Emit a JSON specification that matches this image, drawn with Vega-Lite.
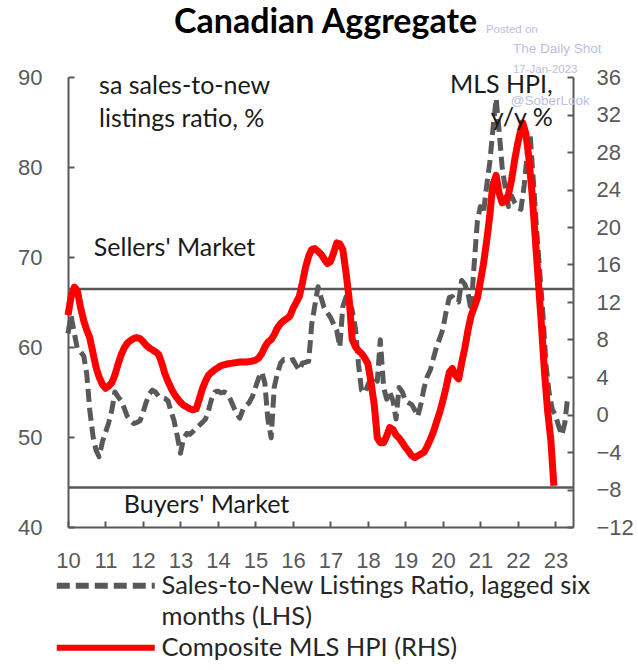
{
 "$schema": "https://vega.github.io/schema/vega-lite/v6.json",
 "width": 505,
 "height": 450,
 "autosize": "none",
 "padding": {"left": 68, "top": 77, "right": 65, "bottom": 143},
 "background": "white",
 "config": {
  "view": {"stroke": null},
  "axis": {"grid": false},
  "legend": {
   "orient": "none", "legendX": 25, "legendY": 496, "direction": "vertical", "title": null,
   "symbolType": "M-7,0H7", "symbolSize": 196, "symbolStrokeWidth": 6,
   "labelFont": "Lato", "labelFontSize": 25.5, "labelColor": "#262626", "labelLimit": 0,
   "labelOffset": 43, "rowPadding": 4, "padding": 0
  }
 },
 "datasets": {
  "levels": [{"level": 66.45}, {"level": 44.4}],
  "titleText": [{"t": 2012.827, "v": 94.89, "label": "Canadian Aggregate"}],
  "notesLeft": [
   {"t": 2010.83, "v": 88.1, "label": "sa sales-to-new|listings ratio, %"},
   {"t": 2010.69, "v": 70.1, "label": "Sellers' Market"},
   {"t": 2011.49, "v": 41.6, "label": "Buyers' Market"}
  ],
  "notesRight": [{"t": 2022.93, "v": 88.2, "label": "MLS HPI,|y/y %"}],
  "wmSmall": [
   {"t": 2021.147, "v": 94.9, "label": "Posted on"},
   {"t": 2021.867, "v": 90.45, "label": "17-Jan-2023"}
  ],
  "wmBig": [
   {"t": 2021.867, "v": 92.67, "label": "The Daily Shot"},
   {"t": 2021.81, "v": 86.9, "label": "@SoberLook"}
  ],
  "ratio": [
   {"t":2010.00,"v":61.5},{"t":2010.08,"v":63.5},{"t":2010.17,"v":61.5},{"t":2010.25,"v":59.8},{"t":2010.33,"v":59.5},{"t":2010.42,"v":59},{"t":2010.50,"v":57},{"t":2010.58,"v":53},{"t":2010.67,"v":50},{"t":2010.75,"v":48.5},{"t":2010.83,"v":47.8},{"t":2010.92,"v":49.5},
   {"t":2011.00,"v":50.5},{"t":2011.08,"v":51.5},{"t":2011.17,"v":53},{"t":2011.25,"v":55},{"t":2011.33,"v":54.5},{"t":2011.42,"v":54},{"t":2011.50,"v":53.2},{"t":2011.58,"v":52.3},{"t":2011.67,"v":51.8},{"t":2011.75,"v":51.5},{"t":2011.83,"v":51.6},{"t":2011.92,"v":51.8},
   {"t":2012.00,"v":52.7},{"t":2012.08,"v":53.8},{"t":2012.17,"v":54.8},{"t":2012.25,"v":55.2},{"t":2012.33,"v":55},{"t":2012.42,"v":54.5},{"t":2012.50,"v":54.4},{"t":2012.58,"v":54.3},{"t":2012.67,"v":54},{"t":2012.75,"v":52.8},{"t":2012.83,"v":51.8},{"t":2012.92,"v":50},
   {"t":2013.00,"v":48.2},{"t":2013.08,"v":49.8},{"t":2013.17,"v":50.4},{"t":2013.25,"v":50.3},{"t":2013.33,"v":50.6},{"t":2013.42,"v":51},{"t":2013.50,"v":51.3},{"t":2013.58,"v":51.6},{"t":2013.67,"v":52},{"t":2013.75,"v":53},{"t":2013.83,"v":54.2},{"t":2013.92,"v":55},
   {"t":2014.00,"v":55.1},{"t":2014.08,"v":54.9},{"t":2014.17,"v":55},{"t":2014.25,"v":54.8},{"t":2014.33,"v":54.2},{"t":2014.42,"v":53.3},{"t":2014.50,"v":52.6},{"t":2014.58,"v":52.1},{"t":2014.67,"v":53.1},{"t":2014.75,"v":53.5},{"t":2014.83,"v":53.8},{"t":2014.92,"v":54.5},
   {"t":2015.00,"v":55.5},{"t":2015.08,"v":56.5},{"t":2015.17,"v":57.2},{"t":2015.25,"v":56},{"t":2015.33,"v":52},{"t":2015.42,"v":49.9},{"t":2015.50,"v":55.5},{"t":2015.58,"v":57},{"t":2015.67,"v":58.2},{"t":2015.75,"v":58.6},{"t":2015.83,"v":58.6},{"t":2015.92,"v":58.5},
   {"t":2016.00,"v":58.6},{"t":2016.08,"v":58},{"t":2016.17,"v":57.4},{"t":2016.25,"v":58.2},{"t":2016.33,"v":58.3},{"t":2016.42,"v":58.4},{"t":2016.50,"v":62.5},{"t":2016.58,"v":64.5},{"t":2016.67,"v":66.7},{"t":2016.75,"v":65.5},{"t":2016.83,"v":64.4},{"t":2016.92,"v":63.8},
   {"t":2017.00,"v":63.3},{"t":2017.08,"v":62.6},{"t":2017.17,"v":61.8},{"t":2017.25,"v":60},{"t":2017.33,"v":64.5},{"t":2017.42,"v":65.6},{"t":2017.50,"v":65},{"t":2017.58,"v":64.1},{"t":2017.67,"v":62},{"t":2017.75,"v":58},{"t":2017.83,"v":55.2},{"t":2017.92,"v":54.9},
   {"t":2018.00,"v":55.8},{"t":2018.08,"v":56.5},{"t":2018.17,"v":56.7},{"t":2018.25,"v":56.2},{"t":2018.33,"v":60.8},{"t":2018.42,"v":55.5},{"t":2018.50,"v":54.2},{"t":2018.58,"v":55},{"t":2018.67,"v":54},{"t":2018.75,"v":52},{"t":2018.83,"v":55.5},{"t":2018.92,"v":55},
   {"t":2019.00,"v":54},{"t":2019.08,"v":53.8},{"t":2019.17,"v":53.6},{"t":2019.25,"v":53},{"t":2019.33,"v":52.3},{"t":2019.42,"v":53.8},{"t":2019.50,"v":55.5},{"t":2019.58,"v":56.7},{"t":2019.67,"v":57.5},{"t":2019.75,"v":58.8},{"t":2019.83,"v":60},{"t":2019.92,"v":61},
   {"t":2020.00,"v":62},{"t":2020.08,"v":63.8},{"t":2020.17,"v":65.5},{"t":2020.25,"v":65.6},{"t":2020.33,"v":65.2},{"t":2020.42,"v":65},{"t":2020.50,"v":67.4},{"t":2020.58,"v":67},{"t":2020.67,"v":66},{"t":2020.75,"v":64},{"t":2020.83,"v":69},{"t":2020.92,"v":74},
   {"t":2021.00,"v":75.6},{"t":2021.08,"v":74.8},{"t":2021.17,"v":78},{"t":2021.25,"v":80.5},{"t":2021.33,"v":84},{"t":2021.42,"v":87.6},{"t":2021.50,"v":84},{"t":2021.58,"v":80},{"t":2021.67,"v":77.5},{"t":2021.75,"v":75.6},{"t":2021.83,"v":76.8},{"t":2021.92,"v":76},
   {"t":2022.00,"v":75.5},{"t":2022.08,"v":75.3},{"t":2022.17,"v":78},{"t":2022.25,"v":81.5},{"t":2022.33,"v":83.4},{"t":2022.42,"v":78},{"t":2022.50,"v":73},{"t":2022.58,"v":68.5},{"t":2022.67,"v":63.5},{"t":2022.75,"v":58},{"t":2022.83,"v":55},{"t":2022.92,"v":53},
   {"t":2023.00,"v":52.5},{"t":2023.08,"v":51.3},{"t":2023.17,"v":50.2},{"t":2023.25,"v":51.5},{"t":2023.33,"v":54.5}
  ],
  "hpi": [
   {"t":2010.00,"r":10.6},{"t":2010.08,"r":12.5},{"t":2010.17,"r":13.6},{"t":2010.25,"r":13.2},{"t":2010.33,"r":11.5},{"t":2010.42,"r":10},{"t":2010.50,"r":9},{"t":2010.58,"r":8.2},{"t":2010.67,"r":6.5},{"t":2010.75,"r":5},{"t":2010.83,"r":4},{"t":2010.92,"r":3.2},
   {"t":2011.00,"r":2.8},{"t":2011.08,"r":3},{"t":2011.17,"r":3.4},{"t":2011.25,"r":4.2},{"t":2011.33,"r":5.3},{"t":2011.42,"r":6.4},{"t":2011.50,"r":7.1},{"t":2011.58,"r":7.6},{"t":2011.67,"r":7.9},{"t":2011.75,"r":8.1},{"t":2011.83,"r":8.2},{"t":2011.92,"r":8.1},
   {"t":2012.00,"r":7.8},{"t":2012.08,"r":7.4},{"t":2012.17,"r":7.1},{"t":2012.25,"r":6.9},{"t":2012.33,"r":6.7},{"t":2012.42,"r":6.4},{"t":2012.50,"r":5.5},{"t":2012.58,"r":4.4},{"t":2012.67,"r":3.5},{"t":2012.75,"r":2.8},{"t":2012.83,"r":2.2},{"t":2012.92,"r":1.7},
   {"t":2013.00,"r":1.3},{"t":2013.08,"r":1.0},{"t":2013.17,"r":0.8},{"t":2013.25,"r":0.6},{"t":2013.33,"r":0.5},{"t":2013.42,"r":0.6},{"t":2013.50,"r":1.6},{"t":2013.58,"r":2.7},{"t":2013.67,"r":3.6},{"t":2013.75,"r":4.2},{"t":2013.83,"r":4.5},{"t":2013.92,"r":4.8},
   {"t":2014.00,"r":5.0},{"t":2014.08,"r":5.2},{"t":2014.17,"r":5.3},{"t":2014.25,"r":5.4},{"t":2014.42,"r":5.5},{"t":2014.58,"r":5.6},{"t":2014.75,"r":5.6},{"t":2014.92,"r":5.7},
   {"t":2015.00,"r":5.8},{"t":2015.08,"r":6.0},{"t":2015.17,"r":6.5},{"t":2015.25,"r":7.2},{"t":2015.33,"r":7.7},{"t":2015.42,"r":8.0},{"t":2015.50,"r":8.5},{"t":2015.58,"r":9.2},{"t":2015.67,"r":9.7},{"t":2015.75,"r":10.0},{"t":2015.83,"r":10.2},{"t":2015.92,"r":10.5},
   {"t":2016.00,"r":11.3},{"t":2016.08,"r":11.9},{"t":2016.17,"r":12.6},{"t":2016.25,"r":14.0},{"t":2016.33,"r":15.6},{"t":2016.42,"r":16.9},{"t":2016.50,"r":17.6},{"t":2016.58,"r":17.7},{"t":2016.67,"r":17.4},{"t":2016.75,"r":17.1},{"t":2016.83,"r":16.6},{"t":2016.92,"r":16.1},
   {"t":2017.00,"r":16.3},{"t":2017.08,"r":17.2},{"t":2017.17,"r":18.3},{"t":2017.25,"r":18.2},{"t":2017.33,"r":17.6},{"t":2017.42,"r":15.0},{"t":2017.50,"r":12.3},{"t":2017.58,"r":8.0},{"t":2017.67,"r":7.2},{"t":2017.75,"r":6.8},{"t":2017.83,"r":6.5},{"t":2017.92,"r":6.0},
   {"t":2018.00,"r":5.4},{"t":2018.08,"r":3.5},{"t":2018.17,"r":1.0},{"t":2018.25,"r":-2.5},{"t":2018.33,"r":-3.0},{"t":2018.42,"r":-3.0},{"t":2018.50,"r":-2.3},{"t":2018.58,"r":-1.4},{"t":2018.67,"r":-1.6},{"t":2018.75,"r":-2.2},{"t":2018.83,"r":-2.5},{"t":2018.92,"r":-3.0},
   {"t":2019.00,"r":-3.5},{"t":2019.08,"r":-3.9},{"t":2019.17,"r":-4.4},{"t":2019.25,"r":-4.6},{"t":2019.33,"r":-4.4},{"t":2019.42,"r":-4.2},{"t":2019.50,"r":-4.0},{"t":2019.58,"r":-3.4},{"t":2019.67,"r":-2.6},{"t":2019.75,"r":-1.8},{"t":2019.83,"r":-0.8},{"t":2019.92,"r":0.3},
   {"t":2020.00,"r":1.5},{"t":2020.08,"r":2.8},{"t":2020.17,"r":4.5},{"t":2020.25,"r":4.9},{"t":2020.33,"r":4.2},{"t":2020.42,"r":3.8},{"t":2020.50,"r":5.5},{"t":2020.58,"r":7.0},{"t":2020.67,"r":9.0},{"t":2020.75,"r":10.5},{"t":2020.83,"r":11.4},{"t":2020.92,"r":12.4},
   {"t":2021.00,"r":14.2},{"t":2021.08,"r":16.0},{"t":2021.17,"r":18.6},{"t":2021.25,"r":21.2},{"t":2021.33,"r":24.5},{"t":2021.42,"r":25.5},{"t":2021.50,"r":23.6},{"t":2021.58,"r":22.6},{"t":2021.67,"r":22.7},{"t":2021.75,"r":23.5},{"t":2021.83,"r":25.0},{"t":2021.92,"r":27.3},
   {"t":2022.00,"r":29.0},{"t":2022.08,"r":30.4},{"t":2022.13,"r":31.1},{"t":2022.21,"r":30.0},{"t":2022.29,"r":27.5},{"t":2022.38,"r":23.5},{"t":2022.46,"r":19.0},{"t":2022.54,"r":14.5},{"t":2022.62,"r":10.0},{"t":2022.71,"r":4.5},{"t":2022.79,"r":0.5},{"t":2022.88,"r":-2.8},{"t":2022.96,"r":-7.6}
  ]
 },
 "layer": [
  {
   "data": {"name": "levels"},
   "mark": {"type": "rule", "color": "#595959", "strokeWidth": 2.5},
   "encoding": {
    "y": {"field": "level", "type": "quantitative", "scale": {"domain": [40, 90], "nice": false, "zero": false}, "axis": null}
   }
  },
  {
   "data": {"name": "ratio"},
   "transform": [{"calculate": "'Sales-to-New Listings Ratio, lagged six'", "as": "series"}],
   "mark": {"type": "line", "strokeWidth": 5, "strokeCap": "butt", "strokeJoin": "round"},
   "encoding": {
    "x": {"field": "t", "type": "quantitative", "scale": {"domain": [2010, 2023.47], "nice": false, "zero": false},
     "axis": {"orient": "bottom", "values": [2010,2011,2012,2013,2014,2015,2016,2017,2018,2019,2020,2021,2022,2023], "labelExpr": "slice(toString(datum.value), 2)", "title": null, "labelFlush": false, "labelOverlap": false, "domainColor": "#595959", "domainWidth": 2, "tickColor": "#595959", "tickWidth": 2, "tickSize": -6, "labelPadding": 29, "labelFont": "Liberation Sans", "labelFontSize": 22, "labelColor": "#595959"}},
    "y": {"field": "v", "type": "quantitative", "scale": {"domain": [40, 90], "nice": false, "zero": false},
     "axis": {"orient": "left", "values": [40,50,60,70,80,90], "title": null, "domainColor": "#595959", "domainWidth": 2, "tickColor": "#595959", "tickWidth": 2, "tickSize": -6, "labelPadding": 32, "labelFont": "Liberation Sans", "labelFontSize": 22, "labelColor": "#595959"}},
    "color": {"field": "series", "type": "nominal", "scale": {"domain": ["Sales-to-New Listings Ratio, lagged six", "months (LHS)", "Composite MLS HPI (RHS)"], "range": ["#595959", "transparent", "#FF0000"]}},
    "strokeDash": {"field": "series", "type": "nominal", "scale": {"domain": ["Sales-to-New Listings Ratio, lagged six", "months (LHS)", "Composite MLS HPI (RHS)"], "range": [[13, 6], [1, 0], [1, 0]]}}
   }
  },
  {
   "data": {"name": "hpi"},
   "transform": [{"calculate": "'Composite MLS HPI (RHS)'", "as": "series"}],
   "mark": {"type": "line", "strokeWidth": 7, "strokeCap": "butt", "strokeJoin": "round"},
   "encoding": {
    "x": {"field": "t", "type": "quantitative", "scale": {"domain": [2010, 2023.47], "nice": false, "zero": false},
     "axis": {"orient": "bottom", "values": [2010,2011,2012,2013,2014,2015,2016,2017,2018,2019,2020,2021,2022,2023], "labelExpr": "slice(toString(datum.value), 2)", "title": null, "labelFlush": false, "labelOverlap": false, "domainColor": "#595959", "domainWidth": 2, "tickColor": "#595959", "tickWidth": 2, "tickSize": -6, "labelPadding": 29, "labelFont": "Liberation Sans", "labelFontSize": 22, "labelColor": "#595959"}},
    "y": {"field": "r", "type": "quantitative", "scale": {"domain": [-12, 36], "nice": false, "zero": false},
     "axis": {"orient": "right", "values": [-12,-8,-4,0,4,8,12,16,20,24,28,32,36], "title": null, "domainColor": "#595959", "domainWidth": 2, "tickColor": "#595959", "tickWidth": 2, "tickSize": -6, "labelPadding": 29, "labelFont": "Liberation Sans", "labelFontSize": 22, "labelColor": "#595959"}},
    "color": {"field": "series", "type": "nominal", "scale": {"domain": ["Sales-to-New Listings Ratio, lagged six", "months (LHS)", "Composite MLS HPI (RHS)"], "range": ["#595959", "transparent", "#FF0000"]}},
    "strokeDash": {"field": "series", "type": "nominal", "scale": {"domain": ["Sales-to-New Listings Ratio, lagged six", "months (LHS)", "Composite MLS HPI (RHS)"], "range": [[13, 6], [1, 0], [1, 0]]}}
   }
  },
  {
   "data": {"name": "titleText"},
   "mark": {"type": "text", "align": "left", "baseline": "alphabetic", "font": "Lato", "fontSize": 34, "fontWeight": "bold", "color": "#000000"},
   "encoding": {
    "x": {"field": "t", "type": "quantitative", "scale": {"domain": [2010, 2023.47], "nice": false, "zero": false},
     "axis": {"orient": "bottom", "values": [2010,2011,2012,2013,2014,2015,2016,2017,2018,2019,2020,2021,2022,2023], "labelExpr": "slice(toString(datum.value), 2)", "title": null, "labelFlush": false, "labelOverlap": false, "domainColor": "#595959", "domainWidth": 2, "tickColor": "#595959", "tickWidth": 2, "tickSize": -6, "labelPadding": 29, "labelFont": "Liberation Sans", "labelFontSize": 22, "labelColor": "#595959"}},
    "y": {"field": "v", "type": "quantitative", "scale": {"domain": [40, 90], "nice": false, "zero": false}, "axis": null},
    "text": {"field": "label"}
   }
  },
  {
   "data": {"name": "notesLeft"},
   "mark": {"type": "text", "align": "left", "baseline": "alphabetic", "font": "Lato", "fontSize": 25, "color": "#1a1a1a", "lineBreak": "|", "lineHeight": 33},
   "encoding": {
    "x": {"field": "t", "type": "quantitative", "scale": {"domain": [2010, 2023.47], "nice": false, "zero": false},
     "axis": {"orient": "bottom", "values": [2010,2011,2012,2013,2014,2015,2016,2017,2018,2019,2020,2021,2022,2023], "labelExpr": "slice(toString(datum.value), 2)", "title": null, "labelFlush": false, "labelOverlap": false, "domainColor": "#595959", "domainWidth": 2, "tickColor": "#595959", "tickWidth": 2, "tickSize": -6, "labelPadding": 29, "labelFont": "Liberation Sans", "labelFontSize": 22, "labelColor": "#595959"}},
    "y": {"field": "v", "type": "quantitative", "scale": {"domain": [40, 90], "nice": false, "zero": false}, "axis": null},
    "text": {"field": "label"}
   }
  },
  {
   "data": {"name": "notesRight"},
   "mark": {"type": "text", "align": "right", "baseline": "alphabetic", "font": "Lato", "fontSize": 25, "color": "#1a1a1a", "lineBreak": "|", "lineHeight": 33},
   "encoding": {
    "x": {"field": "t", "type": "quantitative", "scale": {"domain": [2010, 2023.47], "nice": false, "zero": false},
     "axis": {"orient": "bottom", "values": [2010,2011,2012,2013,2014,2015,2016,2017,2018,2019,2020,2021,2022,2023], "labelExpr": "slice(toString(datum.value), 2)", "title": null, "labelFlush": false, "labelOverlap": false, "domainColor": "#595959", "domainWidth": 2, "tickColor": "#595959", "tickWidth": 2, "tickSize": -6, "labelPadding": 29, "labelFont": "Liberation Sans", "labelFontSize": 22, "labelColor": "#595959"}},
    "y": {"field": "v", "type": "quantitative", "scale": {"domain": [40, 90], "nice": false, "zero": false}, "axis": null},
    "text": {"field": "label"}
   }
  },
  {
   "data": {"name": "wmSmall"},
   "mark": {"type": "text", "align": "left", "baseline": "alphabetic", "font": "Liberation Sans", "fontSize": 11.5, "color": "#BCC0DD"},
   "encoding": {
    "x": {"field": "t", "type": "quantitative", "scale": {"domain": [2010, 2023.47], "nice": false, "zero": false},
     "axis": {"orient": "bottom", "values": [2010,2011,2012,2013,2014,2015,2016,2017,2018,2019,2020,2021,2022,2023], "labelExpr": "slice(toString(datum.value), 2)", "title": null, "labelFlush": false, "labelOverlap": false, "domainColor": "#595959", "domainWidth": 2, "tickColor": "#595959", "tickWidth": 2, "tickSize": -6, "labelPadding": 29, "labelFont": "Liberation Sans", "labelFontSize": 22, "labelColor": "#595959"}},
    "y": {"field": "v", "type": "quantitative", "scale": {"domain": [40, 90], "nice": false, "zero": false}, "axis": null},
    "text": {"field": "label"}
   }
  },
  {
   "data": {"name": "wmBig"},
   "mark": {"type": "text", "align": "left", "baseline": "alphabetic", "font": "Liberation Sans", "fontSize": 13.5, "color": "#BCC0DD"},
   "encoding": {
    "x": {"field": "t", "type": "quantitative", "scale": {"domain": [2010, 2023.47], "nice": false, "zero": false},
     "axis": {"orient": "bottom", "values": [2010,2011,2012,2013,2014,2015,2016,2017,2018,2019,2020,2021,2022,2023], "labelExpr": "slice(toString(datum.value), 2)", "title": null, "labelFlush": false, "labelOverlap": false, "domainColor": "#595959", "domainWidth": 2, "tickColor": "#595959", "tickWidth": 2, "tickSize": -6, "labelPadding": 29, "labelFont": "Liberation Sans", "labelFontSize": 22, "labelColor": "#595959"}},
    "y": {"field": "v", "type": "quantitative", "scale": {"domain": [40, 90], "nice": false, "zero": false}, "axis": null},
    "text": {"field": "label"}
   }
  }
 ],
 "resolve": {"scale": {"y": "independent"}}
}
